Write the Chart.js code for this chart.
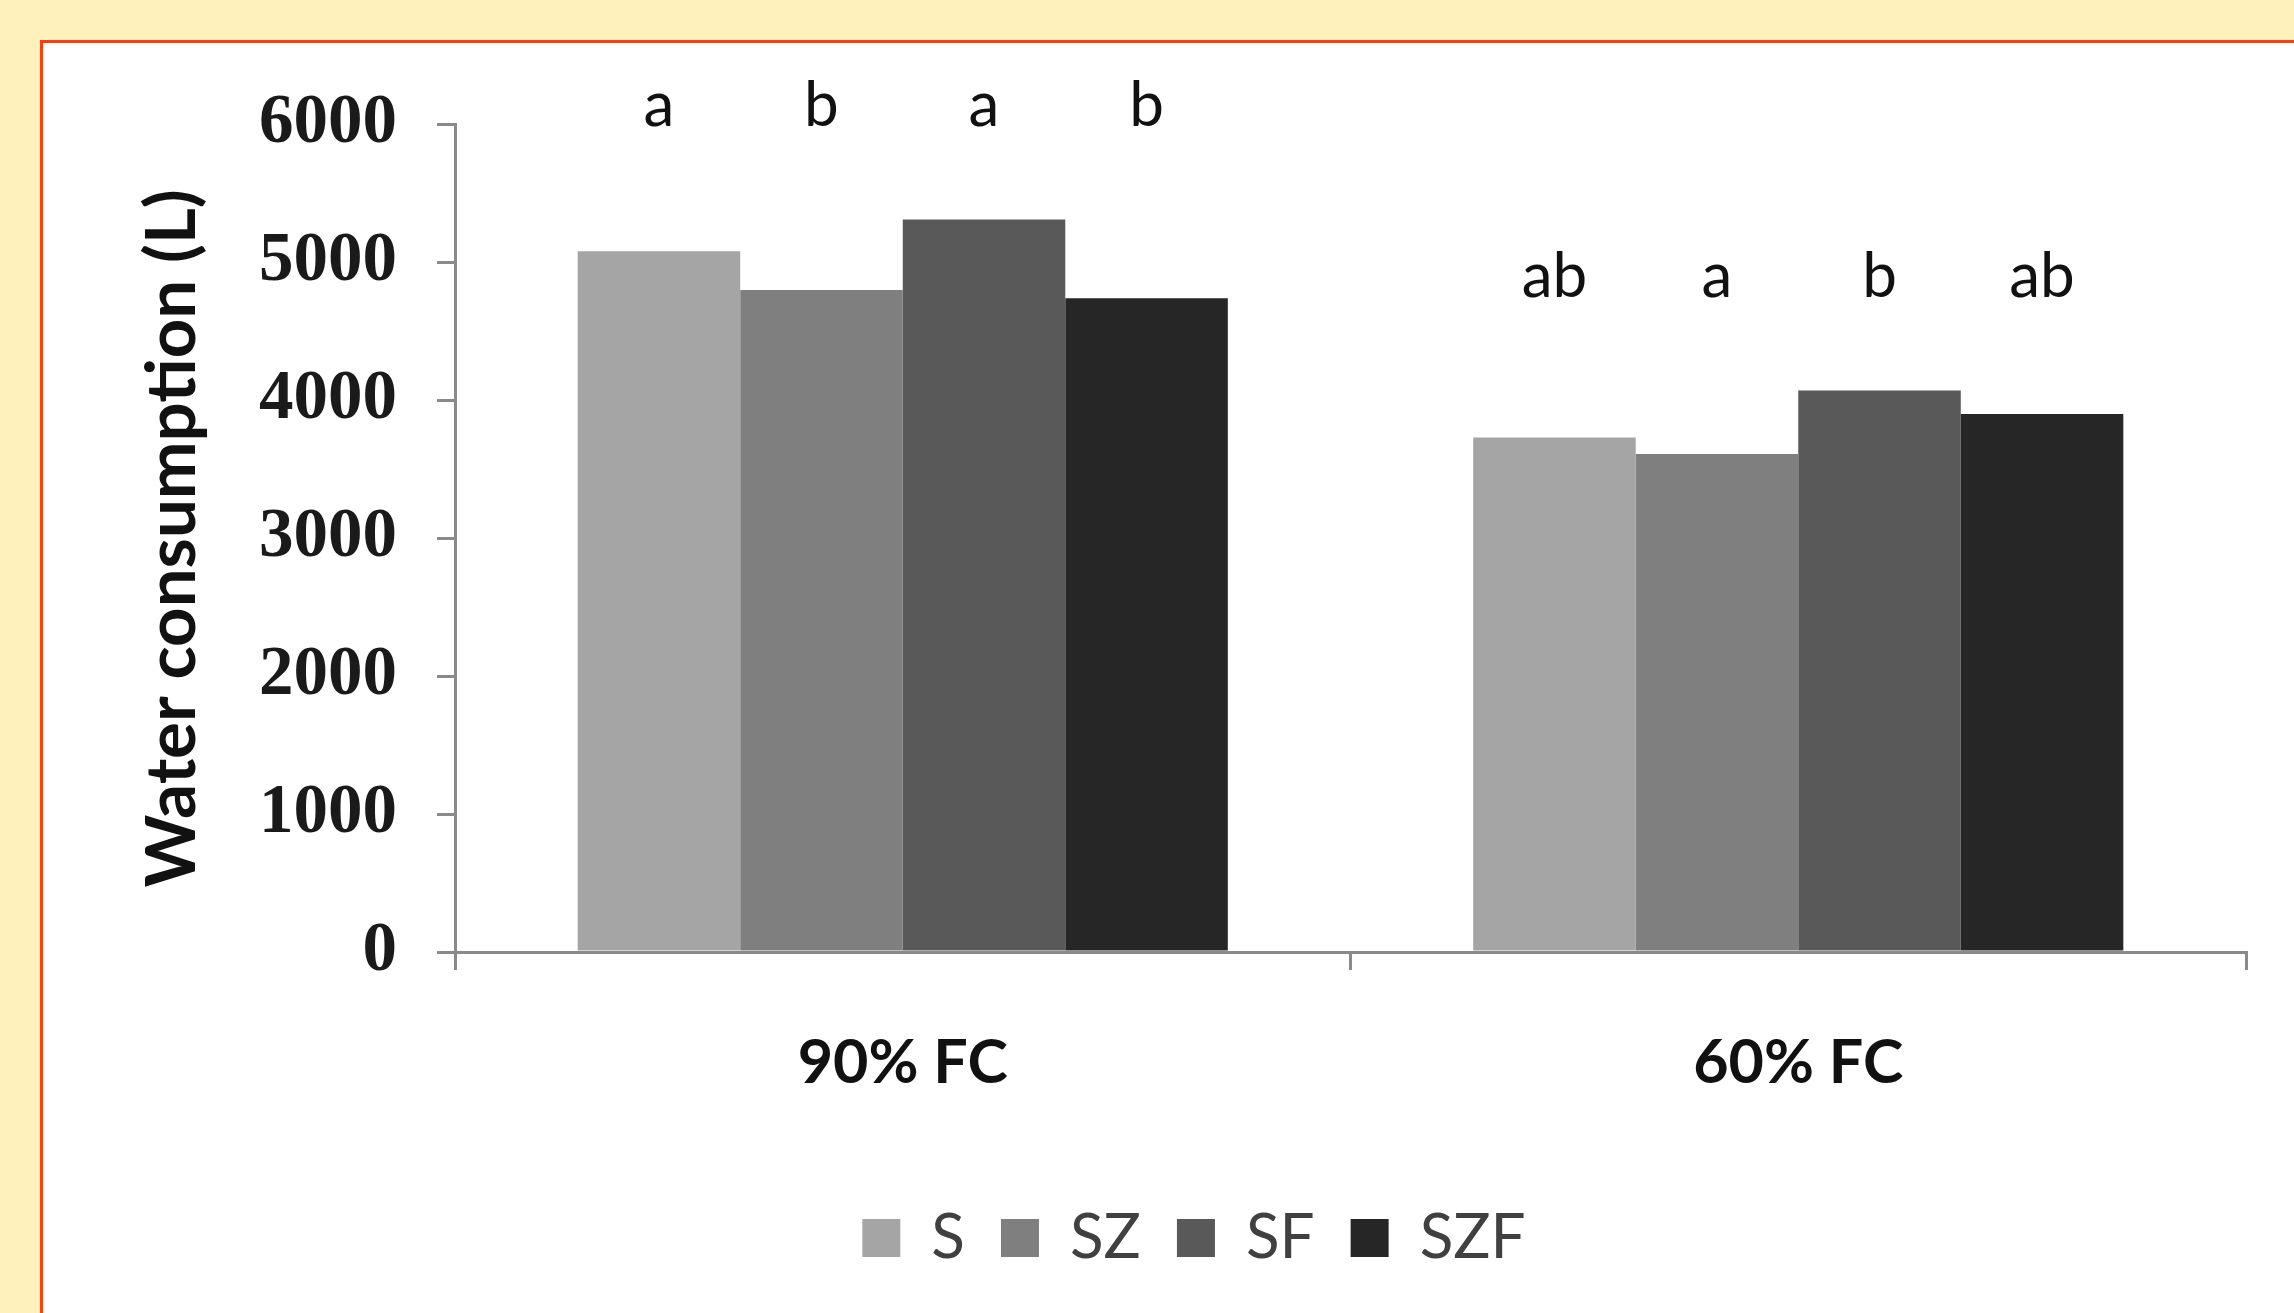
<!DOCTYPE html>
<html>
<head>
<meta charset="utf-8">
<script src="https://cdn.jsdelivr.net/npm/chart.js@4.4.1/dist/chart.umd.min.js"></script>
<style>
    html, body {
        margin: 0;
        padding: 0;
        width: 2294px;
        height: 1313px;
        overflow: hidden;
        background: #fff1bb;
    }
    #panel {
        position: absolute;
        left: 40px;
        top: 40px;
        width: 2400px;
        height: 1400px;
        background: #ffffff;
        border-top: 3px solid #ff3d0d;
        border-left: 3px solid #ff3d0d;
    }
    #chart_box {
        position: absolute;
        left: 0px;
        top: 0px;
        width: 2302px;
        height: 1270px;
    }
</style>
</head>
<body>

<div id="panel">
    <div id="chart_box">
        <canvas id="water_consumption"></canvas>
    </div>
</div>

<script>
// data
const categories = ['90% FC', '60% FC'];
const seriesNames = ['S', 'SZ', 'SF', 'SZF'];

const valuesS = [5080, 3730];
const valuesSZ = [4800, 3610];
const valuesSF = [5310, 4070];
const valuesSZF = [4740, 3900];

// letters of significance over each bar
const lettersS = ['a', 'ab'];
const lettersSZ = ['b', 'a'];
const lettersSF = ['a', 'b'];
const lettersSZF = ['b', 'ab'];

const yTicks = [0, 1000, 2000, 3000, 4000, 5000, 6000];

const seriesValues = [valuesS, valuesSZ, valuesSF, valuesSZF];
const seriesLetters = [lettersS, lettersSZ, lettersSF, lettersSZF];
const seriesColors = ['#a5a5a5', '#7f7f7f', '#595959', '#262626'];

const axisGray = '#8a8a8a';

// draws the a / b / ab letters a bit above the tallest bar of each group
const lettersPlugin = {
    id: 'lettersPlugin',
    afterDatasetsDraw(chart) {
        const ctx = chart.ctx;
        const yScale = chart.scales.y;

        ctx.save();
        ctx.font = '62px Lato';
        ctx.fillStyle = '#111111';
        ctx.textAlign = 'center';
        ctx.textBaseline = 'alphabetic';

        chart.data.datasets.forEach((dataset, i) => {
            let meta = chart.getDatasetMeta(i);
            meta.data.forEach((bar, j) => {
                let groupMax = Math.max(...seriesValues.map((values) => values[j]));
                let y = yScale.getPixelForValue(groupMax + 680);
                ctx.fillText(seriesLetters[i][j], bar.x, y);
            });
        });

        ctx.restore();
    }
};

let datasets = [];
seriesNames.map((name, i) => {
    datasets.push({
        label: name,
        data: seriesValues[i],
        backgroundColor: seriesColors[i],
        borderColor: seriesColors[i],
        borderWidth: 0,
        categoryPercentage: 0.726,
        barPercentage: 1.0
    });
});

let ctx = document.getElementById('water_consumption').getContext('2d');

const config = {
    type: 'bar',
    data: {
        labels: categories,
        datasets: datasets
    },
    options: {
        responsive: true,
        maintainAspectRatio: false,
        animation: false,
        layout: {
            padding: { top: 80, left: 0, right: 0, bottom: 34 }
        },
        plugins: {
            tooltip: { enabled: false },
            legend: {
                position: 'bottom',
                labels: {
                    boxWidth: 38,
                    boxHeight: 38,
                    padding: 36,
                    color: '#404040',
                    font: { family: 'Lato', size: 62 }
                }
            }
        },
        scales: {
            x: {
                grid: {
                    display: true,
                    drawOnChartArea: false,
                    offset: true,
                    color: axisGray,
                    lineWidth: 3,
                    tickLength: 18
                },
                border: { display: true, color: axisGray, width: 3 },
                ticks: {
                    color: '#111111',
                    padding: 57,
                    font: { family: 'Lato', size: 61, weight: 'bold' }
                },
                afterFit: (scale) => { scale.height = 219; }
            },
            y: {
                min: 0,
                max: 6000,
                afterBuildTicks: (scale) => {
                    scale.ticks = yTicks.map((v) => ({ value: v }));
                },
                grid: {
                    display: true,
                    drawOnChartArea: false,
                    color: axisGray,
                    lineWidth: 3,
                    tickLength: 18
                },
                border: { display: true, color: axisGray, width: 3 },
                ticks: {
                    color: '#1a1a1a',
                    padding: 40,
                    font: { family: 'Liberation Serif', size: 69, weight: 'bold' },
                    callback: (value) => String(value)
                },
                title: {
                    display: true,
                    text: 'Water consumption (L)',
                    color: '#111111',
                    padding: { top: 88, bottom: 0 },
                    font: { family: 'Lato', size: 69, weight: 'bold' }
                },
                afterFit: (scale) => { scale.width = 412; }
            },
            // empty right-hand axis, keeps the plot narrower than the legend row
            y2: {
                position: 'right',
                display: true,
                grid: { display: false },
                border: { display: false },
                ticks: { display: false },
                afterFit: (scale) => { scale.width = 99; }
            }
        }
    },
    plugins: [lettersPlugin]
};

const chart = new Chart(ctx, config);
</script>
</body>
</html>
